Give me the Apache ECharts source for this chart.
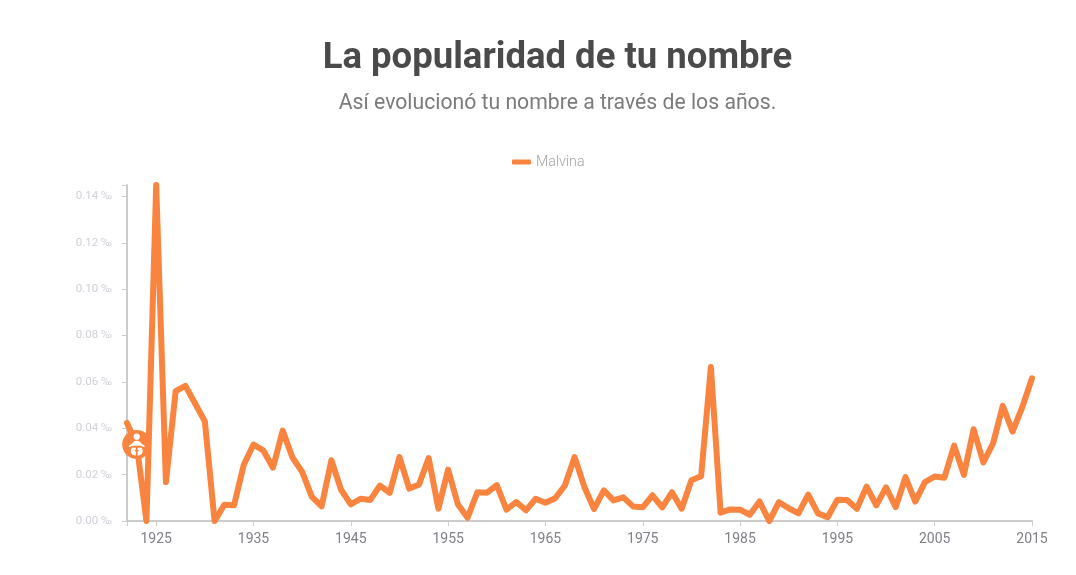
<!DOCTYPE html>
<html lang="es">
<head>
    <meta charset="UTF-8">
    <title>La popularidad de tu nombre</title>
    <script src="https://cdn.jsdelivr.net/npm/echarts@6/dist/echarts.min.js"></script>
    <style>
        html, body { margin: 0; padding: 0; background: #fff; }
        #main { width: 1076px; height: 575px; }
    </style>
</head>
<body>
    <div id="main"></div>
    <script type="text/javascript">
        var years = [
            1922, 1923, 1924, 1925, 1926, 1927, 1928, 1929, 1930, 1931,
            1932, 1933, 1934, 1935, 1936, 1937, 1938, 1939, 1940, 1941,
            1942, 1943, 1944, 1945, 1946, 1947, 1948, 1949, 1950, 1951,
            1952, 1953, 1954, 1955, 1956, 1957, 1958, 1959, 1960, 1961,
            1962, 1963, 1964, 1965, 1966, 1967, 1968, 1969, 1970, 1971,
            1972, 1973, 1974, 1975, 1976, 1977, 1978, 1979, 1980, 1981,
            1982, 1983, 1984, 1985, 1986, 1987, 1988, 1989, 1990, 1991,
            1992, 1993, 1994, 1995, 1996, 1997, 1998, 1999, 2000, 2001,
            2002, 2003, 2004, 2005, 2006, 2007, 2008, 2009, 2010, 2011,
            2012, 2013, 2014, 2015
        ];
        var malvina = [
            0.0423, 0.0330, 0.0000, 0.1450, 0.0168, 0.0560, 0.0583, 0.0507, 0.0430, 0.0000,
            0.0070, 0.0068, 0.0243, 0.0330, 0.0305, 0.0230, 0.0390, 0.0274, 0.0212, 0.0104,
            0.0063, 0.0262, 0.0135, 0.0072, 0.0096, 0.0091, 0.0153, 0.0122, 0.0276, 0.0140,
            0.0157, 0.0272, 0.0053, 0.0222, 0.0072, 0.0014, 0.0124, 0.0122, 0.0155, 0.0049,
            0.0082, 0.0046, 0.0096, 0.0079, 0.0098, 0.0153, 0.0276, 0.0147, 0.0052, 0.0132,
            0.0089, 0.0102, 0.0063, 0.0059, 0.0111, 0.0059, 0.0124, 0.0053, 0.0176, 0.0193,
            0.0665, 0.0036, 0.0050, 0.0049, 0.0027, 0.0084, 0.0000, 0.0081, 0.0055, 0.0033,
            0.0114, 0.0033, 0.0016, 0.0092, 0.0091, 0.0053, 0.0148, 0.0068, 0.0145, 0.0060,
            0.0189, 0.0084, 0.0168, 0.0192, 0.0187, 0.0325, 0.0199, 0.0396, 0.0253, 0.0335,
            0.0497, 0.0386, 0.0491, 0.0616
        ];
        var yLabels = [0, 0.02, 0.04, 0.06, 0.08, 0.10, 0.12, 0.14];
        var yTicks = [0, 0.02, 0.04, 0.06, 0.08, 0.10, 0.12, 0.14, 0.145];
        var birthYear = 1923;
        var birthValue = 0.033;

        // bebe dibujado a mano: cabeza, cuerpo y pies
        var babyIcon = 'path://M12 0a3.4 3.4 0 1 1 0 6.8a3.4 3.4 0 1 1 0-6.8z' +
            'M12 8c3 0 4 1.5 5 3l4 2.6l-1 1.2l-4-1.6h-8l-4 1.6l-1-1.2l4-2.6c1-1.5 2-3 5-3z' +
            'M6.5 15.5h4.5v1.8l-1.6 1.2l1.6 1.2v4.3h-1c-2.5 0-4.5-2.3-4.5-4.6c0-1.3 .4-2.7 1-3.9z' +
            'M13 15.5h4.5c.6 1.2 1 2.6 1 3.9c0 2.3-2 4.6-4.5 4.6h-1v-4.3l1.6-1.2l-1.6-1.2z';

        var myChart = echarts.init(document.getElementById('main'));
        var option = {
            backgroundColor: '#fff',
            animation: false,
            textStyle: { fontFamily: 'Roboto' },
            title: [
                {
                    text: 'La popularidad de tu nombre',
                    left: 552.5, top: 35, textAlign: 'center',
                    textStyle: { fontFamily: 'Roboto', fontSize: 36.5, fontWeight: 'bold', color: '#4a4a4a' }
                },
                {
                    text: 'Así evolucionó tu nombre a través de los años.',
                    left: 552.5, top: 88, textAlign: 'center',
                    textStyle: { fontFamily: 'Roboto', fontSize: 21.2, fontWeight: 'normal', color: '#7b7b7b' }
                }
            ],
            legend: {
                data: ['Malvina'],
                left: 507, top: 150,
                icon: 'roundRect',
                itemWidth: 19, itemHeight: 5, itemGap: 8,
                textStyle: { fontFamily: 'Roboto', fontSize: 14.2, fontWeight: 300, color: '#a3a3a3' }
            },
            grid: { left: 127, right: 44, top: 185, bottom: 54 },
            xAxis: {
                type: 'category',
                data: years,
                boundaryGap: false,
                axisLine: { lineStyle: { color: '#cccccc', width: 2 } },
                axisTick: {
                    alignWithLabel: true, length: 5,
                    lineStyle: { color: '#cccccc', width: 1 },
                    interval: function (i, v) { return i === 0 || Number(v) % 10 === 5; }
                },
                axisLabel: {
                    color: '#7f8088', fontSize: 14, margin: 11,
                    interval: function (i, v) { return Number(v) % 10 === 5; }
                }
            },
            yAxis: {
                type: 'value',
                min: 0, max: 0.145,
                splitLine: { show: false },
                axisLine: { show: true, lineStyle: { color: '#cccccc', width: 2 } },
                axisTick: { show: true, length: 5, customValues: yTicks, lineStyle: { color: '#cccccc', width: 1 } },
                axisLabel: {
                    color: '#cfd0d8', fontSize: 11.5, margin: 15,
                    customValues: yLabels,
                    padding: [3, 0, 0, 0],
                    formatter: function (v) { return v.toFixed(2) + ' ‰'; }
                }
            },
            series: [{
                name: 'Malvina',
                type: 'line',
                data: malvina,
                showSymbol: false,
                symbol: 'none',
                itemStyle: { color: '#f8843f' },
                lineStyle: { color: '#f8843f', width: 6, cap: 'round', join: 'round' },
                markPoint: {
                    silent: true,
                    animation: false,
                    label: { show: false },
                    data: [
                        {
                            coord: [String(birthYear), birthValue], symbol: 'circle', symbolSize: 29,
                            itemStyle: { color: '#f8843f' }
                        },
                        {
                            coord: [String(birthYear), birthValue], symbol: babyIcon, symbolSize: 22,
                            symbolKeepAspect: true,
                            itemStyle: { color: '#ffffff' }
                        }
                    ]
                }
            }]
        };
        myChart.setOption(option);
    </script>
</body>
</html>
